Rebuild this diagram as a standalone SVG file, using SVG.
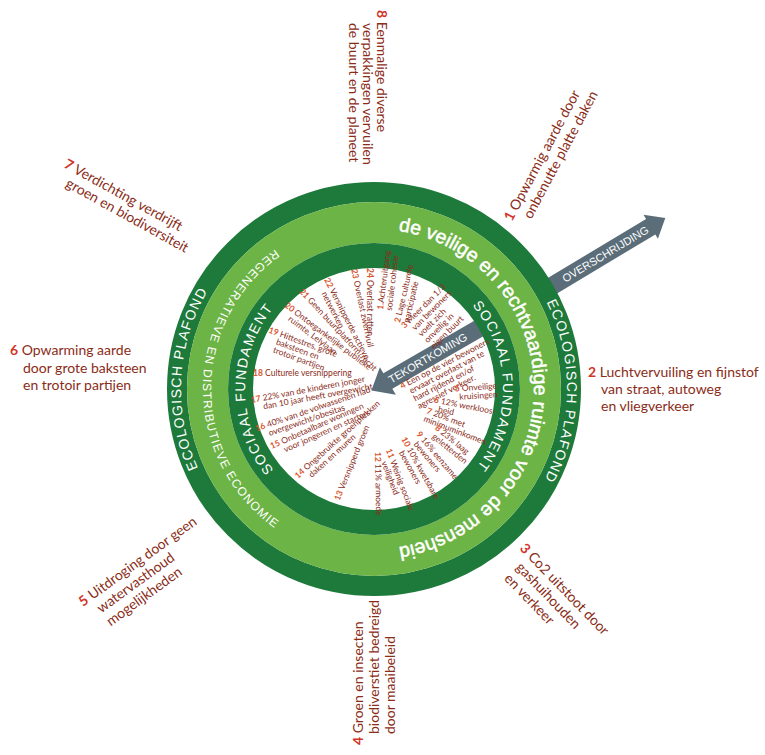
<svg xmlns="http://www.w3.org/2000/svg" width="765" height="755" viewBox="0 0 765 755">
<style>
.lbl{font-family:Lato,"Liberation Sans",sans-serif;font-size:14px;fill:#8a2c17}
.num{fill:#d2352a;font-weight:700}
.it{font-family:Lato,"Liberation Sans",sans-serif;font-size:8.5px;fill:#8b2c1a}
.in{fill:#d9552d;font-weight:700}
.rt{font-family:"Liberation Sans",Arial,sans-serif;fill:#ffffff}
.big{font-size:19.5px;stroke:#ffffff;stroke-width:0.5px}
.cap{font-size:14px;letter-spacing:1.2px}
.soc{font-size:14px;letter-spacing:1.4px}
.reg{font-size:12px;letter-spacing:1.1px}
.arr{fill:#5a6d79}
.at{font-family:"Liberation Sans",Arial,sans-serif;font-size:11px;fill:#ffffff}
.dk{fill:none;stroke:#1e7a3b}
.lt{fill:none;stroke:#6cb445}
</style>
<defs>
<path id="pLight" d="M214,389 A160,160 0 1 1 534,389 A160,160 0 1 1 214,389"/>
<path id="pEcoR" d="M181,389 A193,193 0 1 1 567,389 A193,193 0 1 1 181,389"/>
<path id="pEcoL" d="M567,389 A193,193 0 1 1 181,389 A193,193 0 1 1 567,389"/>
<path id="pSocR" d="M245,389 A129,129 0 1 1 503,389 A129,129 0 1 1 245,389"/>
<path id="pSocL" d="M503,389 A129,129 0 1 1 245,389 A129,129 0 1 1 503,389"/>
<path id="pReg" d="M374,218 A171,171 0 1 0 374,560 A171,171 0 1 0 374,218"/>
</defs>
<rect width="765" height="755" fill="#ffffff"/>

<g id="connectors">
<g id="arrow-overschrijding" transform="translate(547,289) rotate(-31)">
<path class="arr" d="M0,-9 H121 V-14 L138,0 L121,14 V9 H0 Z"/>
<text class="at" x="68" y="4" text-anchor="middle">OVERSCHRIJDING</text>
</g>
<g id="arrow-tekortkoming" transform="translate(374,389) rotate(-30)">
<path class="arr" d="M-3,0 L16,-16 V-9 H130 V9 H16 V16 Z"/>
<text class="at" x="62" y="4" text-anchor="middle">TEKORTKOMING</text>
</g>
</g>

<g id="ring-ecologisch-plafond">
<circle class="dk" cx="374" cy="389" r="197" stroke-width="20"/>
<text class="rt cap" text-anchor="middle"><textPath href="#pEcoR" startOffset="50.2%">ECOLOGISCH PLAFOND</textPath></text>
<text class="rt cap" text-anchor="middle"><textPath href="#pEcoL" startOffset="50.9%">ECOLOGISCH PLAFOND</textPath></text>
</g>
<g id="ring-veilige-ruimte">
<circle class="lt" cx="374" cy="389" r="166.5" stroke-width="41"/>
<text class="rt big" text-anchor="middle"><textPath href="#pLight" startOffset="50%">de veilige en rechtvaardige ruimte voor de mensheid</textPath></text>
<text class="rt reg" text-anchor="middle"><textPath href="#pReg" startOffset="25%">REGENERATIEVE EN DISTRIBUTIEVE ECONOMIE</textPath></text>
</g>
<g id="ring-sociaal-fundament">
<circle class="dk" cx="374" cy="389" r="133.5" stroke-width="25"/>
<text class="rt soc" text-anchor="middle"><textPath href="#pSocR" startOffset="49.6%">SOCIAAL FUNDAMENT</textPath></text>
<text class="rt soc" text-anchor="middle"><textPath href="#pSocL" startOffset="50%">SOCIAAL FUNDAMENT</textPath></text>
</g>

<g id="item-1" transform="translate(383,310) rotate(-83)"><text class="it"><tspan class="in">1.</tspan>Achteruitgang<tspan x="0" dy="8.8">sociale cohesie</tspan></text></g>
<g id="item-2" transform="translate(400,323) rotate(-77)"><text class="it"><tspan class="in">2</tspan> Lage culturele<tspan x="2" dy="8.8">participatie</tspan></text></g>
<g id="item-3" transform="translate(404.8,328.8) rotate(-45)"><text class="it"><tspan class="in">3</tspan> Meer dan 1/3<tspan x="6" dy="8.8">van bewoners</tspan><tspan x="6" dy="8.8">voelt zich</tspan><tspan x="6" dy="8.8">onveilig in</tspan><tspan x="6" dy="8.8">eigen buurt</tspan></text></g>
<g id="item-4" transform="translate(402,389) rotate(-27.5)"><text class="it"><tspan class="in">4</tspan> Een op de vier bewoners<tspan x="6" dy="8.6">ervaart overlast van te</tspan><tspan x="6" dy="8.6">hard rijdend en/of</tspan><tspan x="6" dy="8.6">agressief verkeer.</tspan></text></g>
<g id="item-5" transform="translate(455,391.5) rotate(-4)"><text class="it"><tspan class="in">5</tspan> Onveilige<tspan x="4" dy="8.6">kruisingen</tspan></text></g>
<g id="item-6" transform="translate(433.5,402.5) rotate(11)"><text class="it"><tspan class="in">6</tspan> 12% werkloos-<tspan x="6" dy="8.6">heid</tspan></text></g>
<g id="item-7" transform="translate(426,413) rotate(21)"><text class="it"><tspan class="in">7</tspan> 20% met<tspan x="0" dy="8.6">minimuminkomen</tspan></text></g>
<g id="item-8" transform="translate(434.5,429) rotate(39)"><text class="it"><tspan class="in">8</tspan> 23% laag<tspan x="3" dy="8.6">geletterden</tspan></text></g>
<g id="item-9" transform="translate(416,434.5) rotate(50)"><text class="it"><tspan class="in">9</tspan> 16% eenzame<tspan x="6" dy="8.6">bewoners</tspan></text></g>
<g id="item-10" transform="translate(401,439) rotate(61)"><text class="it"><tspan class="in">10</tspan> 10% kwetsbare<tspan x="11" dy="8.6">bewoners</tspan></text></g>
<g id="item-11" transform="translate(385.7,450) rotate(69)"><text class="it"><tspan class="in">11</tspan> Weinig sociale<tspan x="10" dy="8.6">veiligheid</tspan></text></g>
<g id="item-12" transform="translate(375,452) rotate(89)"><text class="it"><tspan class="in">12</tspan> 11% armoede</text></g>
<g id="item-13" transform="translate(339.4,501.1) rotate(-68)"><text class="it"><tspan class="in">13</tspan> Versnipperd groen</text></g>
<g id="item-14" transform="translate(297.9,478.9) rotate(-42)"><text class="it"><tspan class="in">14</tspan> Ongebruikte groenplekken<tspan x="11" dy="8.6">daken en muren</tspan></text></g>
<g id="item-15" transform="translate(271.8,449.1) rotate(-24)"><text class="it"><tspan class="in">15</tspan> Onbetaalbare woningen<tspan x="11" dy="8.6">voor jongeren en starters</tspan></text></g>
<g id="item-16" transform="translate(256.6,431.4) rotate(-19)"><text class="it"><tspan class="in">16</tspan> 40% van de volwassenen had<tspan x="11" dy="8.6">overgewicht/obesitas</tspan></text></g>
<g id="item-17" transform="translate(251.4,402.9) rotate(-10.5)"><text class="it"><tspan class="in">17</tspan> 22% van de kinderen jonger<tspan x="11" dy="8.6">dan 10 jaar heeft overgewicht</tspan></text></g>
<g id="item-18" transform="translate(253,375.5)"><text class="it"><tspan class="in">18</tspan> Culturele versnippering</text></g>
<g id="item-19" transform="translate(268,332.4) rotate(20)"><text class="it"><tspan class="in">19</tspan> Hittestres, grote<tspan x="11" dy="8.6">baksteen en</tspan><tspan x="11" dy="8.6">trotoir partijen</tspan></text></g>
<g id="item-20" transform="translate(284,306.5) rotate(37)"><text class="it"><tspan class="in">20</tspan> Ontoegankelijke publieke<tspan x="11" dy="8.6">ruimte, Lelylaan</tspan></text></g>
<g id="item-21" transform="translate(299,292) rotate(47)"><text class="it"><tspan class="in">21</tspan> Geen buurtplatform/recht</text></g>
<g id="item-22" transform="translate(324.1,279.8) rotate(63)"><text class="it"><tspan class="in">22</tspan> Versnipperde actieve<tspan x="11" dy="8.6">netwerken</tspan></text></g>
<g id="item-23" transform="translate(351.2,269.5) rotate(78)"><text class="it"><tspan class="in">23</tspan> Overlast zwerfvuil</text></g>
<g id="item-24" transform="translate(367,268) rotate(90)"><text class="it"><tspan class="in">24</tspan> Overlast ratten</text></g>

<g id="label-1" transform="translate(512,222) rotate(-62)"><text class="lbl"><tspan class="num">1</tspan> Opwarmig aarde door<tspan x="11" dy="16">onbenutte platte daken</tspan></text></g>
<g id="label-2" transform="translate(588,377)"><text class="lbl"><tspan class="num">2</tspan> Luchtvervuiling en fijnstof<tspan x="13" dy="17">van straat, autoweg</tspan><tspan x="13" dy="17">en vliegverkeer</tspan></text></g>
<g id="label-3" transform="translate(519,549) rotate(46)"><text class="lbl"><tspan class="num">3</tspan> Co2 uitstoot door<tspan x="11" dy="16">gashuihouden</tspan><tspan x="11" dy="16">en verkeer</tspan></text></g>
<g id="label-4" transform="translate(363,745) rotate(-90)"><text class="lbl"><tspan class="num">4</tspan> Groen en insecten<tspan x="11" dy="16">biodiverstiet bedreigd</tspan><tspan x="11" dy="16">door maaibeleid</tspan></text></g>
<g id="label-5" transform="translate(83,607) rotate(-36)"><text class="lbl"><tspan class="num">5</tspan> Uitdroging door geen<tspan x="11" dy="16">watervasthoud</tspan><tspan x="11" dy="16">mogelijkheden</tspan></text></g>
<g id="label-6" transform="translate(10,355)"><text class="lbl"><tspan class="num">6</tspan> Opwarming aarde<tspan x="13" dy="17.5">door grote baksteen</tspan><tspan x="13" dy="17.5">en trotoir partijen</tspan></text></g>
<g id="label-7" transform="translate(63,167) rotate(29)"><text class="lbl"><tspan class="num">7</tspan> Verdichting verdrijft<tspan x="11" dy="16">groen en biodiversiteit</tspan></text></g>
<g id="label-8" transform="translate(377,10) rotate(90)"><text class="lbl"><tspan class="num">8</tspan> Eenmalige diverse<tspan x="13" dy="14">verpakkingen vervuilen</tspan><tspan x="13" dy="14">de buurt en de planeet</tspan></text></g>
</svg>
